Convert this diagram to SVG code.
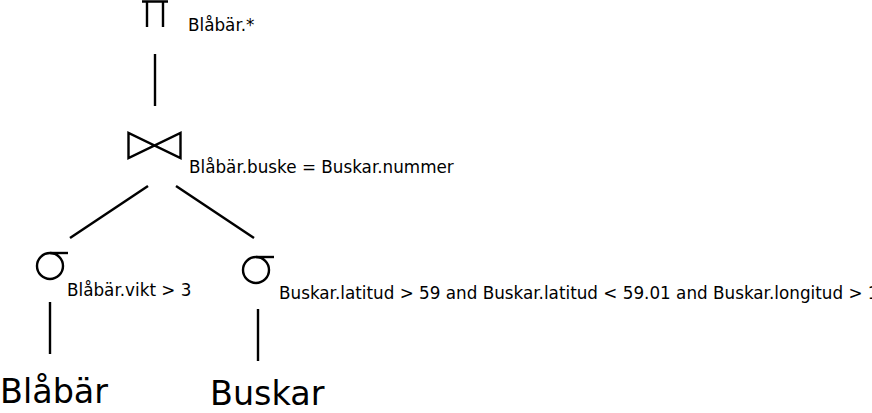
<svg xmlns="http://www.w3.org/2000/svg" width="872" height="413" viewBox="0 0 872 413">
<style>
.s{fill:none;stroke:#000;stroke-width:2.4;stroke-linecap:butt;stroke-linejoin:miter}
.l{font-family:"DejaVu Sans",sans-serif;font-size:16.8px;fill:#000}
.b{font-family:"DejaVu Sans",sans-serif;font-size:33.4px;fill:#000}
</style>
<rect width="872" height="413" fill="#fff"/>
<g id="connectors" class="s">
<line x1="155" y1="54" x2="155" y2="106"/>
<line x1="148" y1="186" x2="70" y2="238"/>
<line x1="176" y1="186" x2="254" y2="238"/>
<line x1="50" y1="302" x2="50" y2="354"/>
<line x1="258" y1="309" x2="258" y2="361"/>
</g>
<g id="projection">
<path class="s" d="M142,1.5 H168 M147,1.5 V27 M163,1.5 V27"/>
<text class="l" x="188" y="31">Blåbär.*</text>
</g>
<g id="join">
<path class="s" d="M128.5,133 V158 L180.5,133 V158 Z"/>
<text class="l" x="189" y="173">Blåbär.buske = Buskar.nummer</text>
</g>
<g id="select1">
<circle class="s" cx="50" cy="266" r="13"/>
<line class="s" x1="50" y1="253" x2="68" y2="253"/>
<text class="l" x="67" y="296">Blåbär.vikt &gt; 3</text>
</g>
<g id="select2">
<circle class="s" cx="256" cy="270" r="13"/>
<line class="s" x1="256" y1="257" x2="274" y2="257"/>
<text class="l" x="279" y="299">Buskar.latitud &gt; 59 and Buskar.latitud &lt; 59.01 and Buskar.longitud &gt; 17</text>
</g>
<g id="blabar">
<text class="b" x="0" y="402.5">Blåbär</text>
</g>
<g id="buskar">
<text class="b" x="210" y="405">Buskar</text>
</g>
</svg>
